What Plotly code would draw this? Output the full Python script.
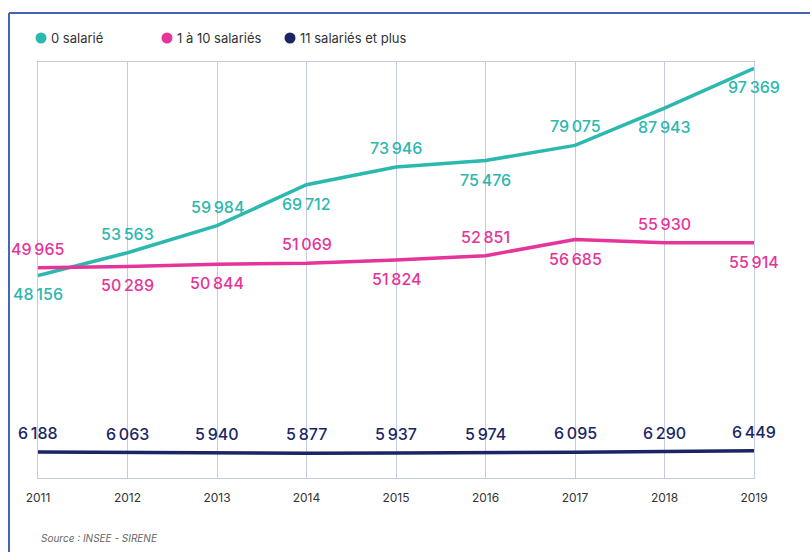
import plotly.graph_objects as go

years = [2011, 2012, 2013, 2014, 2015, 2016, 2017, 2018, 2019]
tick_labels = ["2011", "2012", "2013", "2014", "2015", "2016", "2017", "2018", "2019"]

serie_0 = [48156, 53563, 59984, 69712, 73946, 75476, 79075, 87943, 97369]
serie_1_10 = [49965, 50289, 50844, 51069, 51824, 52851, 56685, 55930, 55914]
serie_11_plus = [6188, 6063, 5940, 5877, 5937, 5974, 6095, 6290, 6449]

names = ["0 salarié", "1 à 10 salariés", "11 salariés et plus"]
colors = ["#2bb8ae", "#e5359a", "#1b2565"]

# label placement (above = True / below = False)
place_0 = [False, True, True, False, True, False, True, False, False]
place_1 = [True, False, False, True, False, True, False, True, False]
place_2 = [True] * 9

def fmt(v):
    return f"{v:,}".replace(",", "\u202f")

FONT = "Inter"
W, H = 810, 552
L, R, T, B = 38, 56, 62, 74
PW, PH = W - L - R, H - T - B

def px(x):
    return (x - L) / PW

def py(y):
    return (H - B - y) / PH

fig = go.Figure()
series = [serie_0, serie_1_10, serie_11_plus]
places = [place_0, place_1, place_2]

for s, name, col in zip(series, names, colors):
    fig.add_trace(go.Scatter(x=years, y=s, mode="lines", name=name,
                             line=dict(color=col, width=3.5), showlegend=False,
                             hoverinfo="skip"))

annotations = []
for s, pl, col in zip(series, places, colors):
    for x, v, up in zip(years, s, pl):
        annotations.append(dict(
            x=x, y=v, xref="x", yref="y", text=fmt(v), showarrow=False,
            yanchor="bottom" if up else "top", yshift=7 if up else -7,
            font=dict(family=FONT, size=16, color=col, weight=500)))

shapes = []
legend_x = [41, 167, 290]
for lx, name, col in zip(legend_x, names, colors):
    shapes.append(dict(type="circle", xref="paper", yref="paper",
                       xsizemode="pixel", ysizemode="pixel",
                       xanchor=px(lx), yanchor=py(38),
                       x0=-5.5, x1=5.5, y0=-5.5, y1=5.5,
                       fillcolor=col, line=dict(width=0)))
    annotations.append(dict(x=px(lx + 8), y=py(38), xref="paper", yref="paper",
                            xanchor="left", yanchor="middle", showarrow=False,
                            text=name,
                            font=dict(family=FONT, size=13, color="#333333")))

annotations.append(dict(
    x=px(39), y=py(538), xref="paper", yref="paper",
    xanchor="left", yanchor="middle", showarrow=False,
    text="<i>Source : INSEE - SIRENE</i>",
    font=dict(family=FONT, size=10, color="#666666")))

grid = "#c6c9e8"
border = "#4565b5"

shapes += [
    dict(type="line", xref="paper", yref="paper",
         x0=px(9), x1=px(815), y0=py(13), y1=py(13),
         line=dict(color=border, width=2)),
    dict(type="line", xref="paper", yref="paper",
         x0=px(9), x1=px(9), y0=py(13), y1=py(560),
         line=dict(color=border, width=2)),
]

fig.update_layout(
    width=W, height=H,
    margin=dict(l=L, r=R, t=T, b=B),
    paper_bgcolor="white", plot_bgcolor="white",
    font=dict(family=FONT, color="#333333"),
    showlegend=False,
    xaxis=dict(range=[2011, 2019], tickvals=years, ticktext=tick_labels,
               showgrid=True, gridcolor=grid, gridwidth=1.2,
               showline=True, linecolor=grid, linewidth=1.2, mirror=True,
               zeroline=False, ticks="outside", ticklen=8,
               tickcolor="rgba(0,0,0,0)",
               tickfont=dict(family=FONT, size=12, color="#333333")),
    yaxis=dict(range=[0, 98900], showgrid=False, showticklabels=False,
               zeroline=False, showline=True, linecolor=grid, linewidth=1.2,
               mirror=True),
    annotations=annotations,
    shapes=shapes,
)

fig.write_html("out.html", config={"displayModeBar": False},
               post_script="document.body.style.margin='0';")
